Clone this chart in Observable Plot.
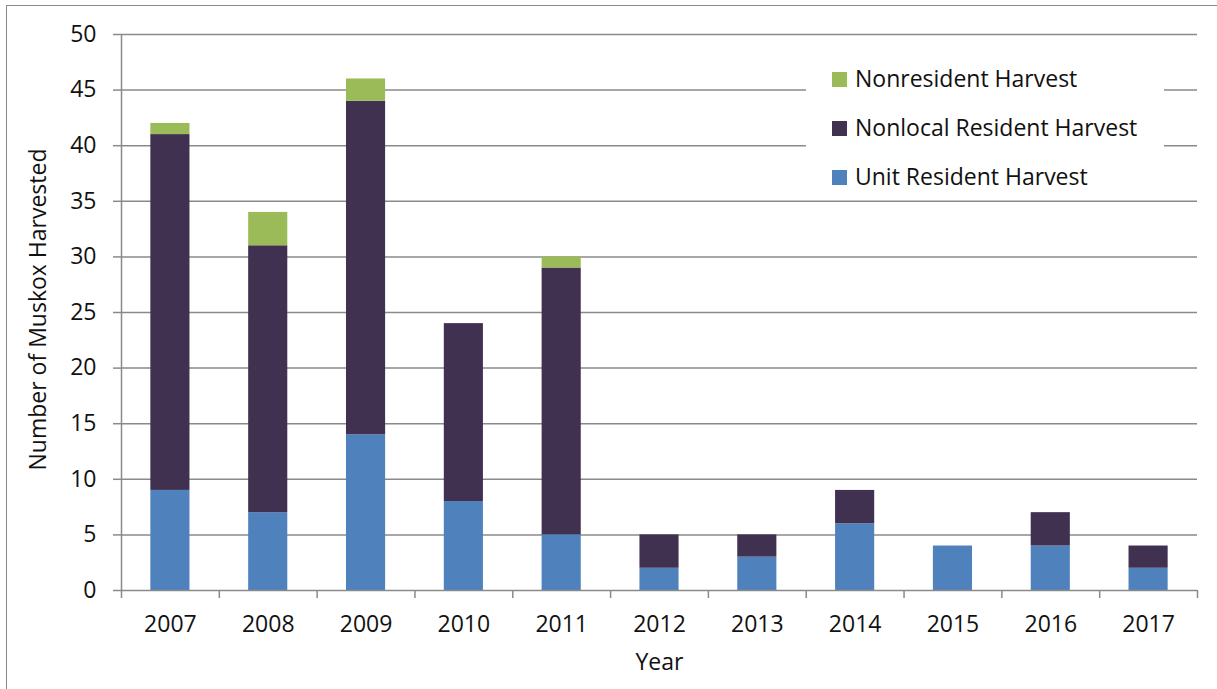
<!DOCTYPE html>
<html><head><meta charset="utf-8">
<script src="https://cdn.jsdelivr.net/npm/d3@7"></script>
<script src="https://cdn.jsdelivr.net/npm/@observablehq/plot@0.6"></script>
<style>
body{margin:0;background:#fff;font-family:"Open Sans",sans-serif;}
#wrap{position:relative;width:1217px;height:689px;overflow:hidden;}
#border{position:absolute;left:6px;top:5px;right:-10px;bottom:-10px;border-left:1.5px solid #8a8a8a;border-top:1.5px solid #8a8a8a;pointer-events:none;}
#legend{position:absolute;left:806px;top:58px;width:358px;height:138px;background:#fff;}
.li{position:absolute;left:26px;font-size:23px;color:#111;line-height:30px;height:30px;white-space:nowrap;}
.sw{display:inline-block;width:15px;height:15px;margin-right:8px;vertical-align:0px;}
</style></head>
<body><div id="wrap"><div id="chart"></div><div id="legend"></div><div id="border"></div></div>
<script>
const years = [2007, 2008, 2009, 2010, 2011, 2012, 2013, 2014, 2015, 2016, 2017];
const unitResident = [9, 7, 14, 8, 5, 2, 3, 6, 4, 4, 2];
const nonlocalResident = [32, 24, 30, 16, 24, 3, 2, 3, 0, 3, 2];
const nonresident = [1, 3, 2, 0, 1, 0, 0, 0, 0, 0, 0];
const seriesNames = ["Unit Resident Harvest", "Nonlocal Resident Harvest", "Nonresident Harvest"];
const seriesColors = ["#4F81BD", "#403151", "#9BBB59"];
const yTicks = [0, 5, 10, 15, 20, 25, 30, 35, 40, 45, 50];

const seriesValues = [unitResident, nonlocalResident, nonresident];
const data = [];
seriesNames.forEach((s, i) => years.forEach((y, j) => data.push({year: y, series: s, value: seriesValues[i][j]})));
const bounds = [years[0] - 0.5, ...years.map(y => y + 0.5)];
const half = 0.2;
const grid = "#8a8a8a";
const fs = 23;

const chart = Plot.plot({
  width: 1217, height: 689,
  marginLeft: 121, marginRight: 20, marginTop: 34, marginBottom: 99,
  style: {fontFamily: "Open Sans, sans-serif", color: "#111", background: "transparent"},
  x: {type: "linear", domain: [years[0] - 0.5, years[years.length - 1] + 0.5]},
  y: {domain: [0, 50]},
  color: {domain: seriesNames, range: seriesColors},
  marks: [
    Plot.gridY({ticks: yTicks.slice(1), stroke: grid, strokeOpacity: 1, strokeWidth: 1.5}),
    Plot.rectY(data, Plot.stackY({x: "year", x1: d => d.year - half, x2: d => d.year + half, y: "value", fill: "series"})),
    Plot.ruleY([0], {stroke: grid, strokeWidth: 1.5}),
    Plot.ruleX([bounds[0]], {stroke: grid, strokeWidth: 1.5}),
    Plot.axisY({ticks: yTicks, tickSize: 8, tickPadding: 17, fontSize: fs, stroke: grid, strokeWidth: 1.5, label: null}),
    Plot.axisX({ticks: bounds, tickSize: 8, tickFormat: () => "", stroke: grid, strokeWidth: 1.5, label: null}),
    Plot.axisX({ticks: years, tickSize: 0, tickPadding: 25, fontSize: fs, tickFormat: d => String(d), label: null}),
    Plot.text(["Number of Muskox Harvested"], {frameAnchor: "left", textAnchor: "middle", dx: -83, dy: -3, rotate: -90, fontSize: fs, fill: "#111"}),
    Plot.text(["Year"], {frameAnchor: "bottom", textAnchor: "middle", dy: 79, fontSize: fs, fill: "#111"})
  ]
});
document.getElementById("chart").appendChild(chart);

const legend = document.getElementById("legend");
const legendOrder = [2, 1, 0];
legendOrder.forEach((i, k) => {
  const el = document.createElement("div");
  el.className = "li";
  el.style.top = (5 + k * 49) + "px";
  el.innerHTML = `<span class="sw" style="background:${seriesColors[i]}"></span>${seriesNames[i]}`;
  legend.appendChild(el);
});
</script></body></html>
